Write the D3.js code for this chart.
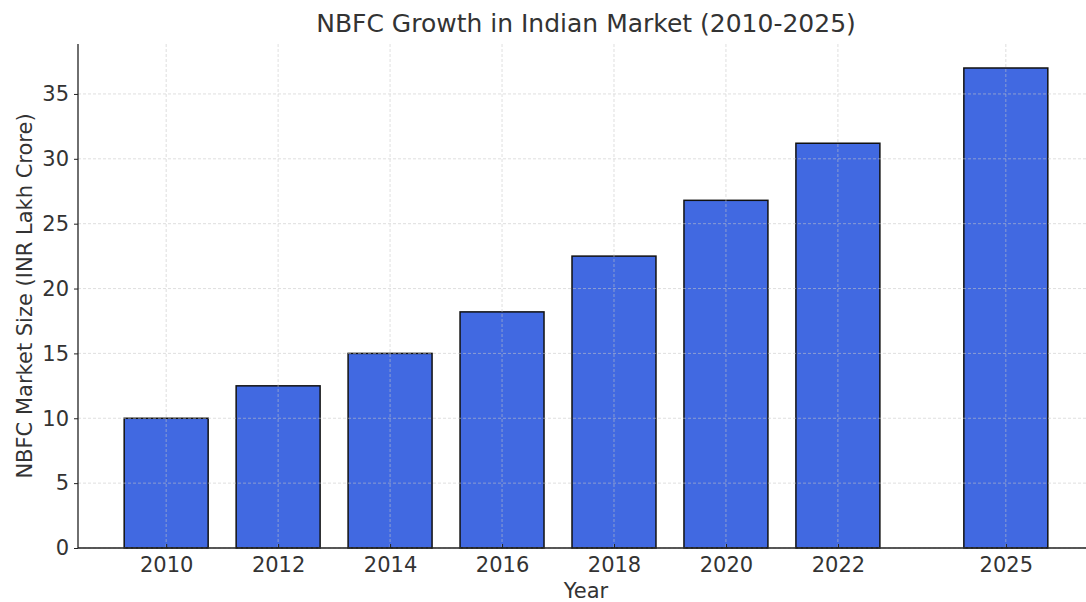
<!DOCTYPE html>
<html>
<head>
<meta charset="utf-8">
<script src="https://cdn.jsdelivr.net/npm/d3@7"></script>
<style>
	body { margin: 0; background: #fff; }
	svg { display: block; font-family: "DejaVu Sans", sans-serif; }
</style>
</head>
<body>
<svg width="1086" height="602"></svg>
<script>
// --- Data ---
const years = [2010, 2012, 2014, 2016, 2018, 2020, 2022, 2025];
const marketSize = [10, 12.5, 15, 18.2, 22.5, 26.8, 31.2, 37];
const yTicks = [0, 5, 10, 15, 20, 25, 30, 35];

const svg = d3.select("svg");
const margin = { left: 78, right: -8, top: 44, bottom: 54 };
const width = 1086, height = 602;
const textColor = "#333";

// x is linear in years, bars 1.5 years wide
const barW = 1.5;
const x = d3.scaleLinear()
	.domain([2008.425, 2026.575])
	.range([margin.left, width - margin.right]);
const y = d3.scaleLinear()
	.domain([0, 38.85])
	.range([height - margin.bottom, margin.top]);

// --- Bars ---
svg.append("g")
	.selectAll("rect")
	.data(years)
	.enter()
	.append("rect")
	.attr("x", (d) => x(d - barW / 2))
	.attr("width", (d) => x(d + barW / 2) - x(d - barW / 2))
	.attr("y", (d, i) => y(marketSize[i]))
	.attr("height", (d, i) => y(0) - y(marketSize[i]))
	.attr("fill", "#4169e1")
	.attr("stroke", "#111")
	.attr("stroke-width", 1.5);

// --- Grid (drawn over bars) ---
const grid = svg.append("g")
	.attr("stroke", "#c8c8c8")
	.attr("stroke-width", 0.8)
	.attr("stroke-dasharray", "3,2")
	.attr("opacity", 0.7);
grid.selectAll(".gx")
	.data(years)
	.enter()
	.append("line")
	.attr("x1", (d) => x(d)).attr("x2", (d) => x(d))
	.attr("y1", margin.top).attr("y2", y(0));
grid.selectAll(".gy")
	.data(yTicks)
	.enter()
	.append("line")
	.attr("x1", margin.left).attr("x2", width)
	.attr("y1", (d) => y(d)).attr("y2", (d) => y(d));

// --- Axes ---
const xAxis = svg.append("g")
	.attr("transform", `translate(0,${y(0)})`)
	.call(d3.axisBottom(x).tickValues(years).tickFormat(d3.format("d")).tickSizeInner(-4).tickSizeOuter(0).tickPadding(9));
const yAxis = svg.append("g")
	.attr("transform", `translate(${margin.left},0)`)
	.call(d3.axisLeft(y).tickValues(yTicks).tickSizeOuter(0).tickSize(4).tickPadding(5));

[xAxis, yAxis].forEach((a) => {
	a.select(".domain").attr("stroke", "#222").attr("stroke-width", 1.3);
	a.selectAll(".tick line").attr("stroke", "#222");
	a.selectAll("text").attr("fill", textColor).attr("font-size", 21).attr("font-family", "DejaVu Sans");
});
xAxis.select(".domain").attr("d", `M${margin.left},0H${width}`);
yAxis.select(".domain").attr("d", `M0,${margin.top}V${y(0)}`);

// --- Labels ---
svg.append("text")
	.attr("x", 586)
	.attr("y", 32)
	.attr("text-anchor", "middle")
	.attr("font-size", 25)
	.attr("fill", textColor)
	.text("NBFC Growth in Indian Market (2010-2025)");

svg.append("text")
	.attr("x", 586)
	.attr("y", 598)
	.attr("text-anchor", "middle")
	.attr("font-size", 21)
	.attr("fill", textColor)
	.text("Year");

svg.append("text")
	.attr("transform", `translate(32,${(margin.top + y(0)) / 2}) rotate(-90)`)
	.attr("text-anchor", "middle")
	.attr("font-size", 21)
	.attr("fill", textColor)
	.text("NBFC Market Size (INR Lakh Crore)");
</script>
</body>
</html>
